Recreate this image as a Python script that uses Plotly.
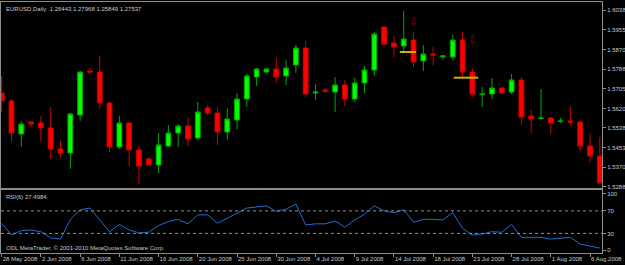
import plotly.graph_objects as go
import pandas as pd

# ---------------- data ----------------
bar_dates = [f"{d.day} {d.strftime('%b %Y')}" for d in pd.date_range("2008-05-28", "2008-08-07") if d.weekday() != 5]
idx = list(range(len(bar_dates)))

opens = [1.56866, 1.56526, 1.55123, 1.55633, 1.55591, 1.55378, 1.54486, 1.54316, 1.55931, 1.57801,
         1.57758, 1.56441, 1.54571, 1.55591, 1.54443, 1.54061, 1.53806, 1.54613, 1.55166, 1.55463,
         1.54953, 1.56228, 1.56016, 1.55208, 1.55718, 1.56611, 1.57546, 1.57758, 1.57886, 1.57588,
         1.58056, 1.58778, 1.56866, 1.56993, 1.56908, 1.57206, 1.56611, 1.57291, 1.57843, 1.59671,
         1.58991, 1.58863, 1.59118, 1.58226, 1.58523, 1.58396, 1.58396, 1.59118, 1.57758, 1.56802,
         1.56823, 1.57078, 1.56908, 1.57418, 1.55888, 1.55782, 1.55803, 1.55654, 1.55676, 1.55633,
         1.54613, 1.54188]
highs = [1.57588, 1.56611, 1.55676, 1.55676, 1.55888, 1.56271, 1.54826, 1.56016, 1.57801, 1.57928,
         1.58438, 1.56483, 1.55888, 1.55610, 1.54613, 1.54146, 1.55166, 1.55506, 1.55548, 1.55846,
         1.56483, 1.56356, 1.56271, 1.56228, 1.56866, 1.57673, 1.57928, 1.57928, 1.58353, 1.58268,
         1.58906, 1.59076, 1.57248, 1.57078, 1.57546, 1.57418, 1.57503, 1.58013, 1.59458, 1.59713,
         1.59288, 1.60350, 1.59458, 1.58906, 1.58821, 1.58481, 1.59331, 1.59458, 1.57928, 1.57121,
         1.57503, 1.57121, 1.57673, 1.57546, 1.56143, 1.57036, 1.55846, 1.55803, 1.56271, 1.55650,
         1.55123, 1.54996]
lows = [1.56058, 1.54783, 1.54571, 1.55421, 1.54826, 1.54061, 1.54146, 1.53643, 1.55676, 1.57716,
        1.56186, 1.54358, 1.54486, 1.53763, 1.52998, 1.53763, 1.53466, 1.54571, 1.54571, 1.54613,
        1.54868, 1.55931, 1.54656, 1.54868, 1.55336, 1.56271, 1.57163, 1.57716, 1.57291, 1.57206,
        1.57716, 1.56696, 1.56568, 1.56866, 1.56058, 1.56313, 1.56483, 1.56866, 1.57588, 1.58906,
        1.58396, 1.58608, 1.57971, 1.57801, 1.58056, 1.58268, 1.58268, 1.57546, 1.56696, 1.56271,
        1.56611, 1.56823, 1.56823, 1.55506, 1.55166, 1.55718, 1.55123, 1.55591, 1.55506, 1.54401,
        1.53933, 1.53000]
closes = [1.56526, 1.55166, 1.55548, 1.55548, 1.55378, 1.54486, 1.54316, 1.55973, 1.57758, 1.57758,
          1.56441, 1.54571, 1.55591, 1.54443, 1.53763, 1.53806, 1.54656, 1.55166, 1.55463, 1.54911,
          1.56058, 1.56016, 1.55208, 1.55761, 1.56611, 1.57588, 1.57886, 1.57886, 1.57546, 1.57928,
          1.58778, 1.56823, 1.56908, 1.56951, 1.57206, 1.56611, 1.57291, 1.57843, 1.59373, 1.58948,
          1.58821, 1.59161, 1.58183, 1.58523, 1.58481, 1.58438, 1.59118, 1.57758, 1.56823, 1.56823,
          1.57078, 1.56866, 1.57418, 1.55846, 1.55761, 1.55803, 1.55591, 1.55676, 1.55633, 1.54613,
          1.54188, 1.53041]

rsi = [48, 27, 35, 36, 33, 22, 20, 55, 72, 75,
       54, 33, 46, 36, 31, 32, 44, 51, 55, 47,
       63, 63, 48, 57, 67, 75, 77, 79, 69, 73,
       82, 45, 47, 47, 52, 41, 54, 64, 79, 70,
       67, 72, 50, 55, 55, 54, 67, 39, 27, 29,
       33, 32, 46, 23, 23, 23, 20, 22, 23, 11,
       8, 4]

price_ticks = [1.60380, 1.59555, 1.58705, 1.57880, 1.57055, 1.56205, 1.55380, 1.54530, 1.53705, 1.52880]
rsi_ticks = [0, 30, 70, 100]
rsi_levels = [30, 70]
date_tick_idx = list(range(0, 61, 4))
date_tick_labels = ["28 May 2008", "2 Jun 2008", "6 Jun 2008", "11 Jun 2008", "16 Jun 2008",
                    "20 Jun 2008", "25 Jun 2008", "30 Jun 2008", "4 Jul 2008", "9 Jul 2008",
                    "14 Jul 2008", "18 Jul 2008", "23 Jul 2008", "28 Jul 2008", "1 Aug 2008",
                    "6 Aug 2008"]

arrow_bars = [42, 48]
arrow_prices = [1.59862, 1.59076]
level_start = [40.6, 46.1]
level_end = [42.25, 48.6]
level_price = [1.58608, 1.57516]

header = "EURUSD,Daily  1.26443 1.27968 1.25849 1.27537"
rsi_label = "RSI(6) 27.4984"
footer = "ODL MetaTrader, © 2001-2010 MetaQuotes Software Corp."

# ---------------- figure ----------------
FONT = "Liberation Sans"
TXT = "#C8C8C8"
FRAME = "#8C8C8C"

fig = go.Figure()
fig.add_trace(go.Candlestick(
    x=idx, open=opens, high=highs, low=lows, close=closes,
    xaxis="x", yaxis="y",
    increasing=dict(line=dict(color="#00A800", width=1), fillcolor="#00FF00"),
    decreasing=dict(line=dict(color="#D00000", width=1), fillcolor="#FF0000"),
    whiskerwidth=0, showlegend=False, hoverinfo="skip"))

for x0, x1, p in zip(level_start, level_end, level_price):
    fig.add_trace(go.Scatter(x=[x0, x1], y=[p, p], mode="lines", xaxis="x", yaxis="y",
                             line=dict(color="#C8B400", width=2), showlegend=False, hoverinfo="skip"))

fig.add_trace(go.Scatter(x=arrow_bars, y=arrow_prices, mode="text", text=["⇩"] * len(arrow_bars),
                         textfont=dict(family="DejaVu Sans", size=10, color="#B00000"),
                         xaxis="x", yaxis="y", showlegend=False, hoverinfo="skip"))

fig.add_trace(go.Scatter(x=idx, y=rsi, mode="lines", xaxis="x2", yaxis="y2",
                         line=dict(color="#1F6FD0", width=1), showlegend=False, hoverinfo="skip"))

xrange = [-0.07, 61.22]
common_axis = dict(showgrid=False, zeroline=False, showline=True, mirror=True,
                   linecolor=FRAME, linewidth=1, automargin=False)

fig.update_layout(
    width=625, height=265,
    margin=dict(l=1, r=23, t=2, b=12),
    paper_bgcolor="black", plot_bgcolor="black",
    font=dict(family=FONT, size=6, color=TXT),
    xaxis=dict(domain=[0, 1], anchor="y", range=xrange, showticklabels=False, ticks="",
               rangeslider=dict(visible=False), **common_axis),
    yaxis=dict(domain=[0.259, 1], anchor="x", range=[1.52828, 1.60733], side="right",
               tickvals=price_ticks, ticktext=[f"{v:.5f}" for v in price_ticks],
               ticks="outside", ticklen=3, tickcolor=FRAME,
               tickfont=dict(family=FONT, size=6, color=TXT), **common_axis),
    xaxis2=dict(domain=[0, 1], anchor="y2", range=xrange,
                tickvals=date_tick_idx, ticktext=date_tick_labels, tickangle=0,
                ticks="outside", ticklen=3, tickcolor=FRAME, ticklabelposition="outside right",
                tickfont=dict(family=FONT, size=6, color=TXT), **common_axis),
    yaxis2=dict(domain=[0, 0.251], anchor="x2", range=[-4.8, 107.1], side="right",
                tickvals=rsi_ticks, ticktext=[str(v) for v in rsi_ticks],
                ticks="outside", ticklen=3, tickcolor=FRAME,
                tickfont=dict(family=FONT, size=6, color=TXT), **common_axis),
    boxgap=0.3,
)

for lv in rsi_levels:
    fig.add_shape(type="line", xref="x2 domain", x0=0, x1=1, yref="y2", y0=lv, y1=lv,
                  line=dict(color="#909090", width=1, dash="dot"))

fig.add_annotation(text=header, xref="paper", yref="paper", x=0, y=1, xanchor="left", yanchor="top",
                   xshift=3, yshift=-2, showarrow=False, font=dict(family=FONT, size=6, color=TXT))
fig.add_annotation(text=rsi_label, xref="paper", yref="paper", x=0, y=0.251, xanchor="left", yanchor="top",
                   xshift=3, yshift=-2, showarrow=False, font=dict(family=FONT, size=6, color=TXT))
fig.add_annotation(text=footer, xref="paper", yref="paper", x=0, y=0, xanchor="left", yanchor="bottom",
                   xshift=3, yshift=0, showarrow=False, font=dict(family=FONT, size=6, color=TXT))

fig.write_html("out.html")
